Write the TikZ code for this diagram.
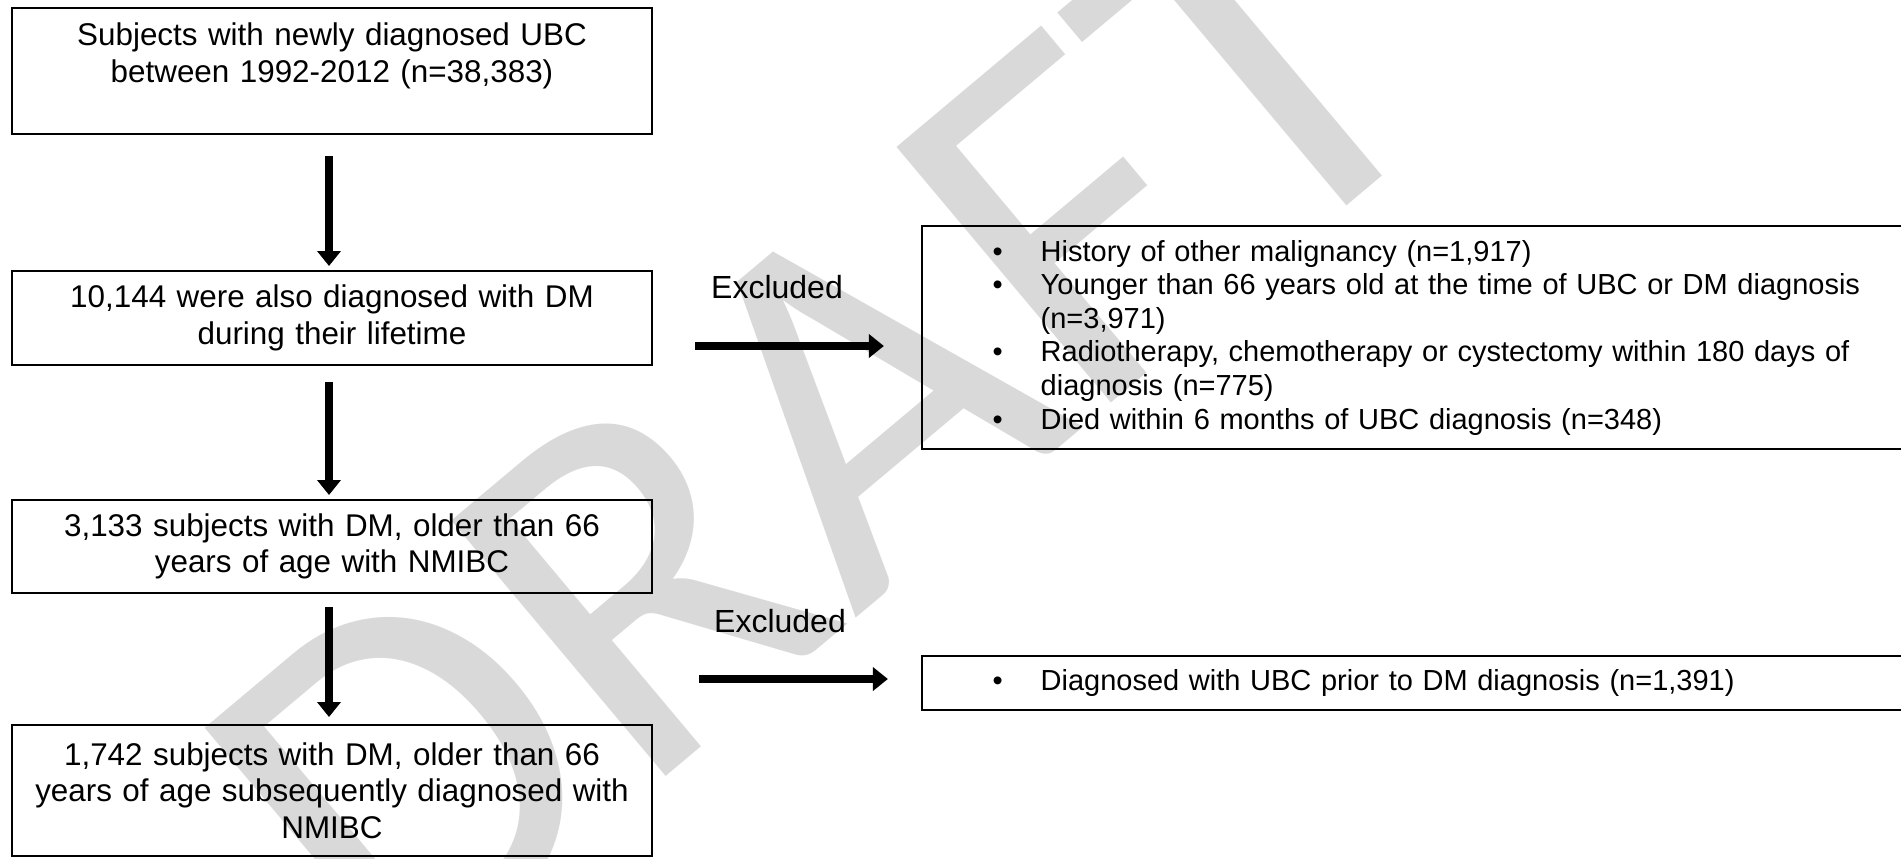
\documentclass[tikz,border=0pt]{standalone}
\usepackage{fontspec}
\setmainfont{Liberation Sans}
\newfontfamily\wmfont{Carlito}
\usetikzlibrary{arrows.meta}
\newcommand{\itm}[1]{\makebox[24pt][l]{\textbullet}#1}
\begin{document}
\begin{tikzpicture}[x=0.5pt,y=-0.5pt,
  box/.style={draw, line width=1pt, inner sep=0pt},
  lbox/.style={box, minimum width=320pt, text width=316pt, align=center, font=\fontsize{15.7}{18.2}\selectfont},
  rbox/.style={box, anchor=north west, text width=489pt, inner xsep=35.5pt, align=left, font=\fontsize{14.5}{16.8}\selectfont},
  lab/.style={font=\fontsize{16}{18.2}\selectfont, inner sep=0pt},
  arr/.style={line width=4pt, -{Triangle[length=7.5pt,width=11.5pt]}},
  wm/.style={text=black!15, inner sep=0pt, font=\wmfont\fontsize{260}{260}\selectfont}
]
\useasboundingbox (0,0) rectangle (1901,858);
\clip (0,0) rectangle (1901,858);
\node[wm, rotate=40] (wmark) at (820,430) {DRAFT};

\node[lbox, minimum height=63pt] (b1) at (332,71) {Subjects with newly diagnosed UBC\\between 1992-2012 (n=38,383)\\\mbox{}};
\node[lbox, minimum height=47pt] (b2) at (332,318) {10,144 were also diagnosed with DM\\during their lifetime};
\node[lbox, minimum height=46.5pt] (b3) at (332,546.5) {3,133 subjects with DM, older than 66\\years of age with NMIBC};
\node[lbox, minimum height=65.5pt] (b4) at (332,790.5) {1,742 subjects with DM, older than 66\\years of age subsequently diagnosed with\\NMIBC};

\node[rbox, minimum height=111.5pt] (r1) at (920.7,225) {\itm{History of other malignancy (n=1,917)}\\
\itm{Younger than 66 years old at the time of UBC or DM diagnosis}\\
\hspace*{24pt}(n=3,971)\\
\itm{Radiotherapy, chemotherapy or cystectomy within 180 days of}\\
\hspace*{24pt}diagnosis (n=775)\\
\itm{Died within 6 months of UBC diagnosis (n=348)}};
\node[rbox, minimum height=27pt] (r2) at (920.7,655) {\itm{Diagnosed with UBC prior to DM diagnosis (n=1,391)}};

\node[lab] (e1) at (777,287) {Excluded};
\node[lab] (e2) at (780,621) {Excluded};

\draw[arr, shorten <=10.5pt, shorten >=2pt] ([xshift=-1.5pt]b1.south) -- ([xshift=-1.5pt]b2.north);
\draw[arr, shorten <=8pt, shorten >=2pt] ([xshift=-1.5pt]b2.south) -- ([xshift=-1.5pt]b3.north);
\draw[arr, shorten <=6.5pt, shorten >=3.5pt] ([xshift=-1.5pt]b3.south) -- ([xshift=-1.5pt]b4.north);
\coordinate (h1) at (695,346);
\draw[arr, shorten >=18.4pt] (h1) -- (h1 -| r1.west);
\coordinate (h2) at (699,679);
\draw[arr, shorten >=16.4pt] (h2) -- (h2 -| r2.west);
\end{tikzpicture}
\end{document}
